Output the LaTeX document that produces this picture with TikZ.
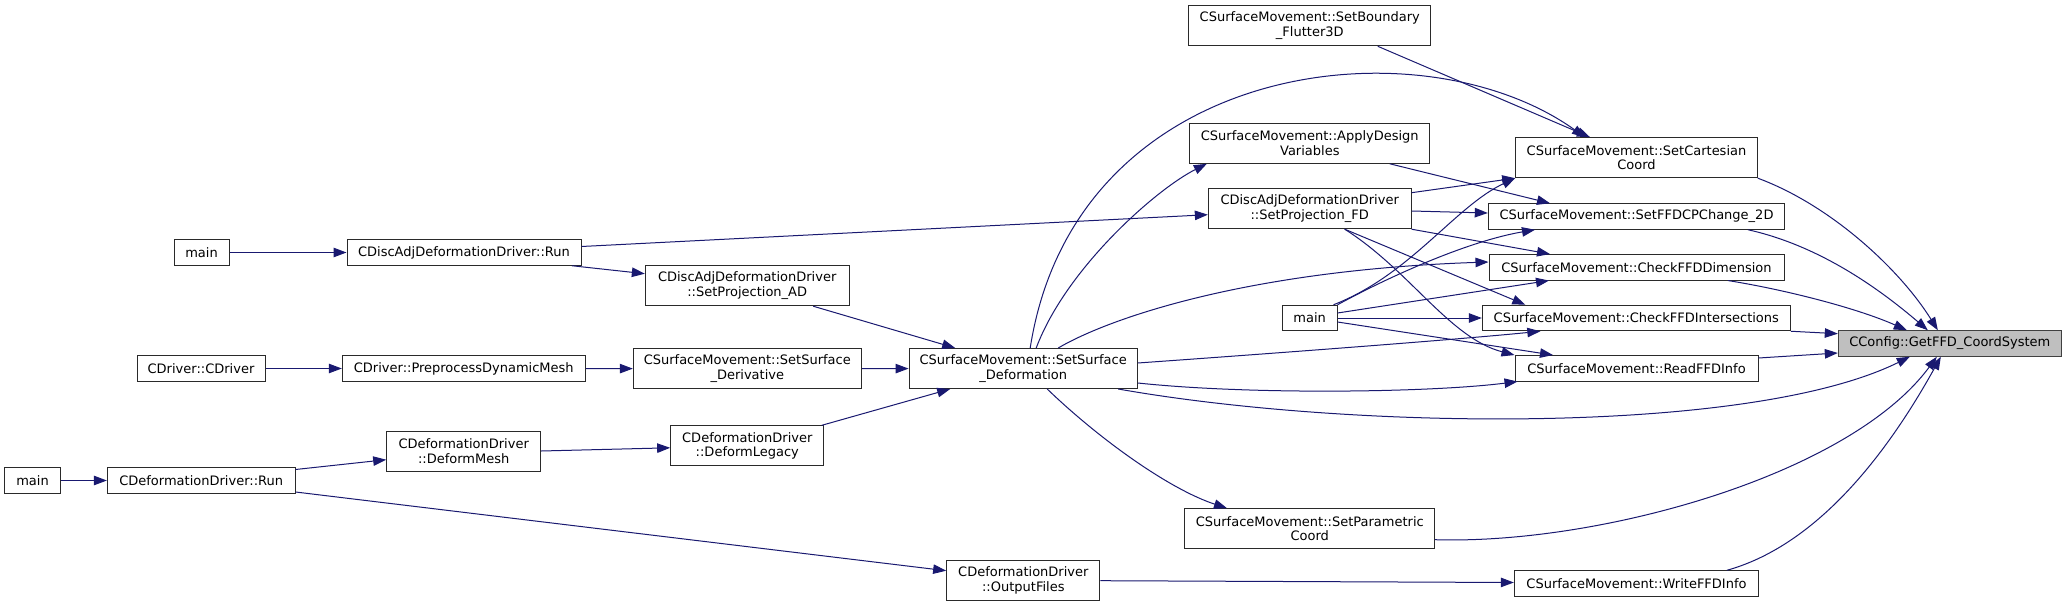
\documentclass[tikz,border=0pt]{standalone}
\usepackage{fontspec}
\setmainfont{DejaVu Sans}
\usetikzlibrary{arrows.meta}

\definecolor{edgeblue}{HTML}{191970}
\definecolor{boxline}{HTML}{2A2A2A}
\definecolor{rootline}{HTML}{404040}
\definecolor{rootfill}{HTML}{BFBFBF}

\begin{document}
\begin{tikzpicture}[
    x=1pt, y=-1pt,
    fn/.style={draw=boxline, line width=1pt, fill=white, rectangle, inner sep=0pt,
               align=center, minimum height=25.5pt,
               font=\fontsize{13}{14.7}\selectfont},
    fn2/.style={fn, minimum height=40pt},
    root/.style={fn, fill=rootfill, draw=rootline},
    call/.style={draw=edgeblue, line width=1pt, -{Triangle[length=13pt, width=9.5pt]}}
]
    \fill[white] (0,0) rectangle (2067,607);
    \useasboundingbox (0,0) rectangle (2067,607);

    % --- Functions ---
    \node[fn,  minimum width=55pt]    (main1)     at (201.5, 252.5)  {main};
    \node[fn,  minimum width=234pt]   (cdarun)    at (464,   252.5)  {CDiscAdjDeformationDriver::Run};
    \node[fn,  minimum width=128pt]   (cdriver)   at (201,   368.5)  {CDriver::CDriver};
    \node[fn,  minimum width=243pt]   (preproc)   at (463.8, 368.5)  {CDriver::PreprocessDynamicMesh};
    \node[fn,  minimum width=55.6pt]  (main2)     at (32.5,  480.5)  {main};
    \node[fn,  minimum width=187.7pt] (cdrun)     at (201.2, 480.5)  {CDeformationDriver::Run};
    \node[fn2, minimum width=154pt]   (dmesh)     at (463.7, 451)    {CDeformationDriver\\::DeformMesh};
    \node[fn2, minimum width=203.7pt] (projad)    at (747.2, 285.7)  {CDiscAdjDeformationDriver\\::SetProjection\_AD};
    \node[fn2, minimum width=228pt]   (sderiv)    at (747.3, 368.7)  {CSurfaceMovement::SetSurface\\\_Derivative};
    \node[fn2, minimum width=153.3pt] (dlegacy)   at (747.3, 445.8)  {CDeformationDriver\\::DeformLegacy};
    \node[fn2, minimum width=228.3pt] (sdef)      at (1023.2,368.5)  {CSurfaceMovement::SetSurface\\\_Deformation};
    \node[fn2, minimum width=153.3pt] (outfiles)  at (1023.3,580.7)  {CDeformationDriver\\::OutputFiles};
    \node[fn2, minimum width=241.7pt] (bound)     at (1309.8,25.8)   {CSurfaceMovement::SetBoundary\\\_Flutter3D};
    \node[fn2, minimum width=240.3pt] (apply)     at (1309.8,143.3)  {CSurfaceMovement::ApplyDesign\\Variables};
    \node[fn2, minimum width=202.7pt] (projfd)    at (1309.7,208.7)  {CDiscAdjDeformationDriver\\::SetProjection\_FD};
    \node[fn,  minimum width=54.7pt]  (main3)     at (1309.7,318)    {main};
    \node[fn2, minimum width=249.7pt] (param)     at (1309.8,528.7)  {CSurfaceMovement::SetParametric\\Coord};
    \node[fn2, minimum width=241.6pt] (cart)      at (1636.5,157.7)  {CSurfaceMovement::SetCartesian\\Coord};
    \node[fn,  minimum width=296.4pt] (cpchange)  at (1636.5,216.5)  {CSurfaceMovement::SetFFDCPChange\_2D};
    \node[fn,  minimum width=295pt]   (dimension) at (1636.5,267.3)  {CSurfaceMovement::CheckFFDDimension};
    \node[fn,  minimum width=308pt]   (intersect) at (1636.3,318)    {CSurfaceMovement::CheckFFDIntersections};
    \node[fn,  minimum width=243pt]   (readffd)   at (1636.5,368.3)  {CSurfaceMovement::ReadFFDInfo};
    \node[fn,  minimum width=244.4pt] (writeffd)  at (1636.5,583.5)  {CSurfaceMovement::WriteFFDInfo};
    \node[root,minimum width=223pt]   (getffd)    at (1949.8,343.5)  {CConfig::GetFFD\_CoordSystem};

    % --- Calls (left part) ---
    \draw[call] (main1) -- (cdarun);
    \draw[call] ([xshift=108pt]cdarun.south) -- ([yshift=12pt]projad.west);
    \draw[call] ([yshift=6pt]cdarun.east) -- ([yshift=-6pt]projfd.west);
    \draw[call] (cdriver) -- (preproc);
    \draw[call] (preproc) -- (sderiv);
    \draw[call] (main2) -- (cdrun);
    \draw[call] ([yshift=11pt]cdrun.east) -- ([yshift=-8.7pt]dmesh.west);
    \draw[call] ([yshift=-11.5pt]cdrun.east) -- ([yshift=10pt]outfiles.west);
    \draw[call] (dmesh.east) -- ([yshift=-2pt]dlegacy.west);
    \draw[call] ([xshift=66pt]projad.south) -- ([xshift=-68pt]sdef.north);
    \draw[call] (sderiv) -- (sdef);
    \draw[call] ([xshift=74.5pt]dlegacy.north) -- ([xshift=-73pt]sdef.south);
    \draw[call] (outfiles.east) -- ([yshift=1pt]writeffd.west);

    % --- Calls from SetSurface_Deformation ---
    \draw[call] ([xshift=13pt]sdef.north) .. controls +(30,-80) and +(-50,25) .. ([xshift=-103pt]apply.south);
    \draw[call] ([xshift=7pt]sdef.north) .. controls +(45,-288.5) and +(-165,-117.7) .. ([xshift=-51.5pt]cart.north);
    \draw[call] ([xshift=35pt]sdef.north) .. controls +(52,-30.5) and +(-239,8) .. ([yshift=5.3pt]dimension.west);
    \draw[call] ([yshift=5.5pt]sdef.east) .. controls +(113,-8) and +(-90,9) .. ([xshift=-96pt]intersect.south);
    \draw[call] ([yshift=-14.5pt]sdef.east) .. controls +(113,12) and +(-87,11) .. ([xshift=3pt]readffd.south west);
    \draw[call] ([xshift=95pt]sdef.south) .. controls +(232,41) and +(-160,79) .. ([xshift=-40pt]getffd.south);
    \draw[call] ([xshift=24pt]sdef.south) .. controls +(53,51) and +(-57,-18.7) .. ([xshift=-82.8pt]param.north);

    % --- Calls in the middle ---
    \draw[call] ([xshift=68pt]bound.south) -- ([xshift=-46.5pt]cart.north);
    \draw[call] ([xshift=80pt]apply.south) -- ([xshift=-86.5pt]cpchange.north);
    \draw[call] ([yshift=16pt]projfd.east) -- (cart.south west);
    \draw[call] ([yshift=-2.3pt]projfd.east) -- ([yshift=3.5pt]cpchange.west);
    \draw[call] (projfd.south east) -- ([xshift=-86.5pt]dimension.north);
    \draw[call] ([xshift=35pt]projfd.south) -- ([xshift=-111pt]intersect.north);
    \draw[call] ([xshift=35pt]projfd.south) .. controls +(65,41) and +(-65,-17) .. (readffd.north west);
    \draw[call] (main3) -- (intersect);
    \draw[call] ([yshift=-4pt]main3.east) -- ([xshift=-83.5pt]readffd.north);
    \draw[call] ([yshift=5pt]main3.east) -- ([xshift=-87.5pt]dimension.south);
    \draw[call] (main3.north east) .. controls +(55,-30) and +(-65,11) .. ([xshift=-101.5pt]cpchange.south);
    \draw[call] ([xshift=-4pt]main3.north east) .. controls +(77,-30) and +(-60,28) .. (cart.south west);

    % --- Calls into GetFFD_CoordSystem ---
    \draw[call] (cart.south east) .. controls +(73,27) and +(-38,-61) .. ([xshift=-12pt]getffd.north);
    \draw[call] ([xshift=111.5pt]cpchange.south) .. controls +(72,16) and +(-48,-41) .. ([xshift=-22pt]getffd.north);
    \draw[call] ([xshift=91.5pt]dimension.south) .. controls +(62,10) and +(-47,-21) .. ([xshift=-43pt]getffd.north);
    \draw[call] (intersect.south east) -- ([yshift=9.8pt]getffd.west);
    \draw[call] ([yshift=10.3pt]readffd.east) -- ([yshift=-9.5pt]getffd.west);
    \draw[call] ([yshift=-11pt]param.east) .. controls +(165,5) and +(-87,118) .. ([xshift=-13pt]getffd.south);
    \draw[call] ([xshift=90.5pt]writeffd.north) .. controls +(93,-26) and +(-51,92) .. ([xshift=-9pt]getffd.south);
\end{tikzpicture}
\end{document}
